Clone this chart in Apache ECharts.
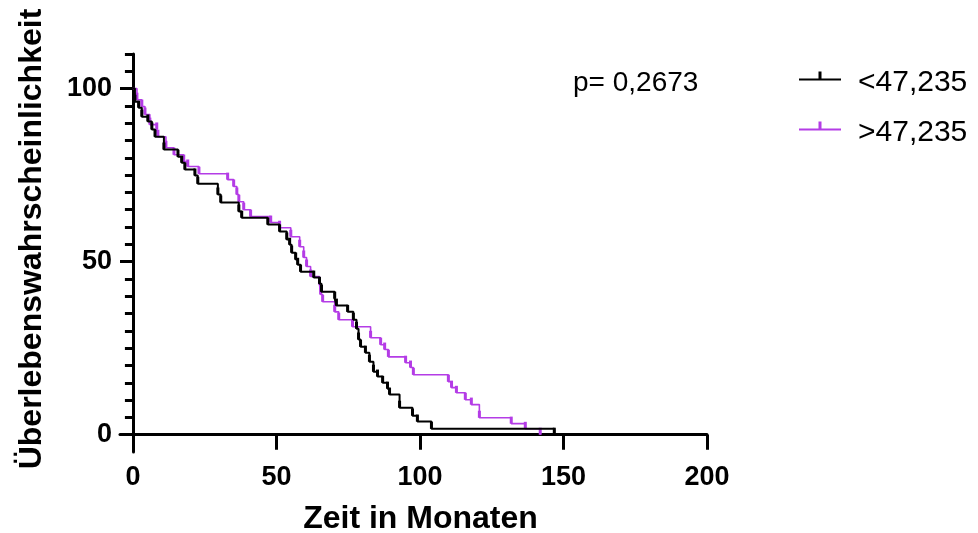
<!DOCTYPE html>
<html>
<head>
<meta charset="utf-8">
<script src="https://cdn.jsdelivr.net/npm/echarts@6/dist/echarts.min.js"></script>
<style>
  html, body { margin: 0; padding: 0; background: #fff; }
  #chart { width: 978px; height: 533px; }
</style>
</head>
<body>
<div id="chart"></div>
<script>
// Kaplan-Meier steps: time (months) of each drop and survival (%) after it
const groupNames = ['<47,235', '>47,235'];

const lowTimes = [0, 0.7, 2.0, 3.1, 5.2, 6.6, 7.7, 10.8, 15.7, 17.0, 18.1, 21.6, 22.6, 29.6, 30.6, 36.9, 37.9, 47.0, 51.1, 53.6, 54.6, 55.3, 56.7, 57.4, 58.4, 63.0, 65.0, 65.7, 70.3, 70.9, 74.8, 76.8, 77.9, 78.6, 79.3, 81.0, 82.4, 83.8, 85.2, 87.0, 88.7, 89.4, 92.9, 97.4, 99.1, 104.0, 146.8];
const lowSurv  = [100, 96.2, 94.5, 91.9, 90.5, 88.2, 86.1, 82.4, 80.3, 78.6, 76.6, 74.9, 72.5, 69.4, 67.1, 64.5, 62.7, 60.7, 58.7, 56.4, 54.9, 52.6, 50.6, 49.1, 47.1, 45.4, 43.6, 41.3, 39.3, 37.3, 35.5, 33.2, 30.6, 27.5, 25.4, 23.7, 21.1, 18.2, 16.8, 15.0, 13.3, 11.6, 7.8, 5.5, 3.8, 1.7, 0];

const highTimes = [0, 1.4, 3.1, 4.2, 5.9, 8.3, 8.7, 11.5, 14.3, 17.7, 19.1, 23.0, 33.0, 35.1, 36.2, 36.9, 38.6, 41.0, 48.0, 51.1, 55.0, 58.1, 59.5, 60.5, 61.9, 65.0, 65.4, 66.1, 70.3, 71.7, 76.5, 82.8, 86.3, 87.7, 89.0, 95.0, 96.7, 97.7, 109.9, 111.0, 112.7, 115.8, 117.9, 120.7, 131.8, 136.7, 141.9];
const highSurv  = [100, 96.8, 94.8, 92.5, 89.6, 88.2, 86.1, 82.9, 80.9, 78.9, 77.5, 75.4, 73.7, 71.7, 69.4, 67.3, 65.0, 63.0, 61.3, 59.8, 57.2, 54.3, 51.2, 48.6, 45.7, 43.4, 40.5, 38.4, 35.5, 33.2, 31.2, 28.0, 26.0, 24.6, 22.5, 20.8, 19.4, 17.3, 15.3, 13.6, 12.1, 10.1, 8.7, 4.9, 3.2, 1.7, 0];

const xTicks = [0, 50, 100, 150, 200];
const yMajorTicks = [0, 50, 100];
const yMinorTicks = [0, 5, 10, 15, 20, 25, 30, 35, 40, 45, 50, 55, 60, 65, 70, 75, 80, 85, 90, 95, 100, 105, 110];
const pValueText = 'p= 0,2673';
const xTitle = 'Zeit in Monaten';
const yTitle = 'Überlebenswahrscheinlichkeit';

const FONT = '"Liberation Sans", Arial, Helvetica, sans-serif';
const BLACK = '#000000';
const PURPLE = '#b43ce6';

function toSteps(times, surv) {
  return times.map((t, i) => i === 0 ? { value: [t, surv[i]], symbol: 'none' } : [t, surv[i]]);
}

// legend glyph: thin line with a censor tick rising from its middle (box 42 x 24)
const legendIcon = 'path://M0,8 L42,8 L42,10 L0,10 Z M19.5,1 L22.5,1 L22.5,9 L19.5,9 Z M0,24 L0.05,24 L0.05,23.95 Z';

const chart = echarts.init(document.getElementById('chart'), null, { renderer: 'canvas' });

const axisLineStyle = { color: '#000', width: 3 };

chart.setOption({
  animation: false,
  backgroundColor: '#ffffff',
  title: {
    text: pValueText,
    left: 573,
    top: 69,
    padding: 0,
    textStyle: { fontFamily: FONT, fontSize: 28, fontWeight: 'normal', color: '#000' }
  },
  legend: {
    orient: 'vertical',
    left: 794,
    top: 63,
    itemWidth: 42,
    itemHeight: 24,
    itemGap: 20,
    data: groupNames.map(n => ({ name: n, icon: legendIcon })),
    textStyle: { fontFamily: FONT, fontSize: 30, color: '#000', padding: [0, 0, 0, 12] }
  },
  grid: { left: 120, top: 54, width: 587, height: 398, containLabel: false, outerBoundsMode: 'none' },
  xAxis: {
    type: 'value',
    min: -4.5,
    max: 200,
    name: xTitle,
    nameLocation: 'middle',
    nameGap: 51,
    nameTextStyle: { fontFamily: FONT, fontSize: 32, fontWeight: 'bold', color: '#000', padding: [0, 0, 0, 14] },
    axisLine: { show: true, onZero: true, lineStyle: axisLineStyle },
    axisTick: { show: true, length: 15, lineStyle: axisLineStyle, customValues: xTicks },
    axisLabel: { fontFamily: FONT, fontSize: 27, fontWeight: 'bold', color: '#000', margin: 12, customValues: xTicks },
    splitLine: { show: false }
  },
  yAxis: [
    {
      // main y axis: line through x = 0 with a short tick every 5 %
      type: 'value',
      min: -5,
      max: 110,
      axisLine: { show: true, onZero: true, lineStyle: axisLineStyle },
      axisTick: { show: true, length: 8, lineStyle: axisLineStyle, customValues: yMinorTicks },
      axisLabel: { show: false },
      splitLine: { show: false }
    },
    {
      // labelled long ticks at 0 / 50 / 100, reaching from the grid edge to the axis line
      type: 'value',
      min: -5,
      max: 110,
      position: 'left',
      axisLine: { show: false },
      axisTick: { show: true, inside: true, length: 13, lineStyle: axisLineStyle, customValues: yMajorTicks },
      axisLabel: { fontFamily: FONT, fontSize: 27, fontWeight: 'bold', color: '#000', margin: 8, customValues: yMajorTicks },
      splitLine: { show: false }
    }
  ],
  graphic: [
    {
      type: 'text',
      x: 32,
      y: 239,
      rotation: Math.PI / 2,
      style: {
        text: yTitle,
        fontFamily: FONT,
        fontSize: 32,
        fontWeight: 'bold',
        fill: '#000',
        align: 'center',
        verticalAlign: 'middle'
      }
    }
  ],
  series: [
    {
      name: groupNames[1],
      type: 'line',
      step: 'end',
      data: toSteps(highTimes, highSurv),
      lineStyle: { color: PURPLE, width: 1.6 },
      itemStyle: { color: PURPLE },
      symbol: 'rect',
      symbolSize: [3, 7],
      symbolOffset: [0, -3.5],
      showSymbol: true,
      z: 2
    },
    {
      name: groupNames[0],
      type: 'line',
      step: 'end',
      data: toSteps(lowTimes, lowSurv),
      lineStyle: { color: BLACK, width: 2 },
      itemStyle: { color: BLACK },
      symbol: 'rect',
      symbolSize: [3, 7],
      symbolOffset: [0, -3.5],
      showSymbol: true,
      z: 3
    }
  ]
});
</script>
</body>
</html>
